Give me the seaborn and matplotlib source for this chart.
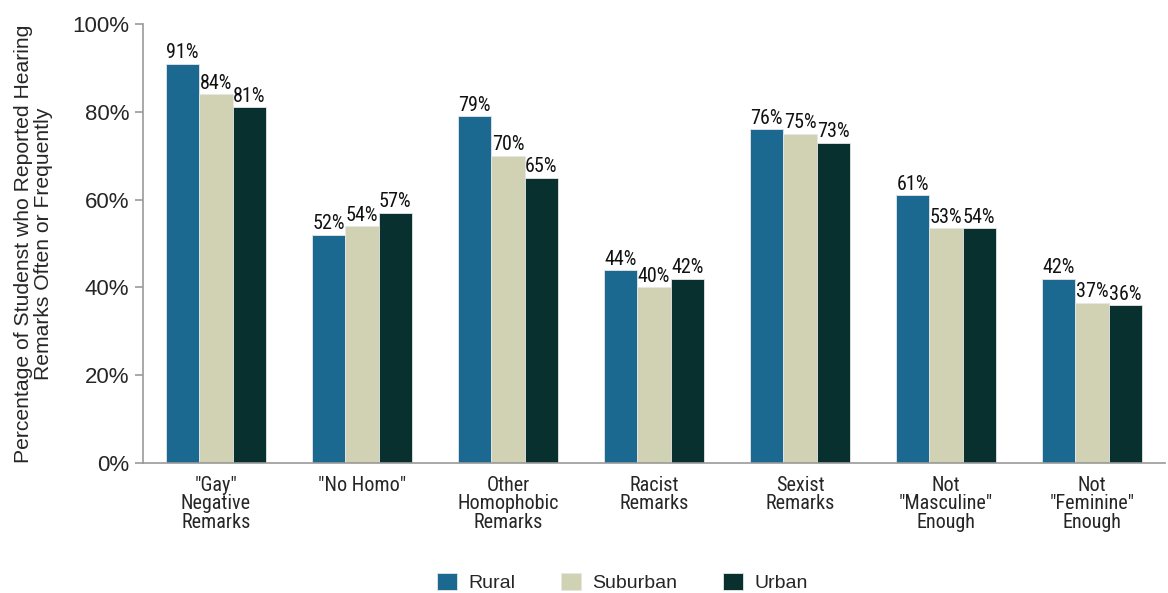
import pandas as pd
import matplotlib.pyplot as plt
import matplotlib.font_manager as fm
import seaborn as sns

categories = ['"Gay"\nNegative\nRemarks', '"No Homo"', 'Other\nHomophobic\nRemarks',
              'Racist\nRemarks', 'Sexist\nRemarks', 'Not\n"Masculine"\nEnough',
              'Not\n"Feminine"\nEnough']
rural = [91, 52, 79, 44, 76, 61, 42]
suburban = [84, 54, 70, 40, 75, 53.5, 36.5]
urban = [81, 57, 65, 42, 73, 53.5, 36]
rural_lbl = ["91%", "52%", "79%", "44%", "76%", "61%", "42%"]
suburban_lbl = ["84%", "54%", "70%", "40%", "75%", "53%", "37%"]
urban_lbl = ["81%", "57%", "65%", "42%", "73%", "54%", "36%"]
groups = ["Rural", "Suburban", "Urban"]
colors = ["#1b6891", "#d1d1b3", "#08302e"]

sns.set_style("white")
names = {f.name for f in fm.fontManager.ttflist}
fam = [f for f in ["Liberation Sans Narrow", "Roboto Condensed", "Liberation Sans", "DejaVu Sans"] if f in names]
plt.rcParams['font.family'] = fam
regular = ["Liberation Sans", "DejaVu Sans"]

df = pd.DataFrame({
    "cat": categories * 3,
    "group": sum([[g] * len(categories) for g in groups], []),
    "val": rural + suburban + urban,
})

fig = plt.figure(figsize=(11.68, 5.93), dpi=100)
ax = fig.add_axes([0.1224, 0.219, 0.875, 0.7405])
sns.barplot(data=df, x="cat", y="val", hue="group", palette=colors, width=0.685,
            saturation=1, edgecolor="#e6e6e6", linewidth=0.6, ax=ax, legend=True)

for cont, lbls in zip(ax.containers, [rural_lbl, suburban_lbl, urban_lbl]):
    ax.bar_label(cont, labels=lbls, padding=1, fontsize=14.5, color="#111111")

ax.set_ylim(0, 100)
ax.set_xlim(-0.5, 6.5)
ax.set_yticks(range(0, 101, 20))
ax.set_yticklabels([f"{v}%" for v in range(0, 101, 20)], fontsize=16, family=regular)
ax.set_xticks(range(7))
ax.set_xticklabels(categories, fontsize=14.5, linespacing=0.97)
ax.set_xticks([i + 0.5 for i in range(-1, 7)], minor=True)
ax.tick_params(axis="x", which="major", length=0, pad=9)
ax.tick_params(axis="x", which="minor", length=6, color="#999999", width=1.2, direction="out")
ax.tick_params(axis="y", length=6, color="#999999", width=1.2, direction="out", left=True, pad=4)
ax.set_xlabel("")
ax.set_ylabel("Percentage of Studenst who Reported Hearing\nRemarks Often or Frequently",
              fontsize=15.2, linespacing=1.05, labelpad=14, family=regular)
sns.despine(ax=ax)
for s in ["left", "bottom"]:
    ax.spines[s].set_color("#999999")
    ax.spines[s].set_linewidth(1.2)

h, l = ax.get_legend_handles_labels()
ax.legend(h, l, loc="center", bbox_to_anchor=(0.533, 0.018), bbox_transform=fig.transFigure,
          ncol=3, frameon=False, prop={"family": regular, "size": 14},
          handlelength=1.0, handleheight=1.0, columnspacing=2.35, handletextpad=0.6,
          borderpad=0.0)

plt.savefig("out.png", dpi=100)
